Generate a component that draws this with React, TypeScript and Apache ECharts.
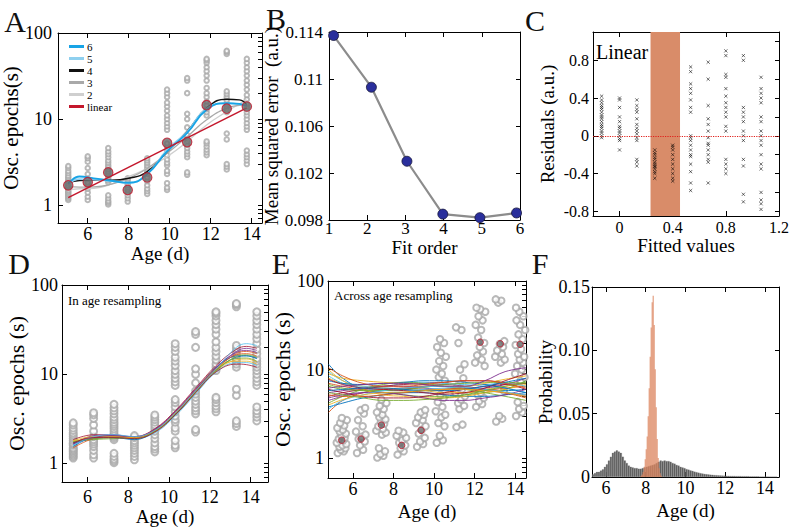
import React, { useEffect, useRef } from 'react';
import * as echarts from 'echarts';

const FONT = 'Liberation Serif';

// ---------- shared raw data (Osc. epochs per age group) ----------
const OSC_G1 = [1.15, 1.2, 1.25, 1.3, 1.35, 1.4, 1.45, 1.5, 1.6, 1.65, 1.7, 1.8, 1.9, 2.0, 2.1, 2.2, 2.35, 2.5, 2.7, 2.85];
const OSC_G2 = [1.15, 1.25, 1.4, 1.55, 1.65, 1.75, 1.85, 2.0, 2.3, 2.7, 3.2, 3.5, 3.7];
const OSC_G3 = [1.02, 1.07, 1.12, 1.2, 1.3, 1.85, 1.95, 2.05, 2.15, 2.3, 2.45, 2.6, 2.75, 2.9, 3.1, 3.3, 3.6, 3.9, 4.2, 4.6];
const OSC_G4 = [1.1, 1.2, 1.3, 1.4, 1.5, 1.6, 1.7, 1.8, 1.95, 2.05];
const OSC_G5 = [1.35, 1.45, 1.55, 1.7, 1.9, 2.1, 2.3, 2.5, 2.7, 2.9, 3.1, 3.3, 3.5];
const OSC_G6 = [1.5, 1.6, 1.8, 2.3, 2.5, 2.9, 3.1, 3.4, 3.8, 4.3, 4.8, 5.2, 7.5, 8.2, 9.0, 10, 11, 12.5, 14, 15.5, 18, 20, 22];
const OSC_G7 = [2.25, 2.4, 3.6, 3.9, 4.2, 4.6, 5.0, 5.5, 6.0, 6.5, 8.0, 10, 11.5, 20, 28, 30];
const OSC_G8 = [3.8, 4.1, 4.4, 4.8, 5.2, 5.5, 11, 12, 13, 14.5, 16, 18, 20, 23, 28, 32, 36, 40, 45, 48, 50];
const OSC_G9 = [2.6, 2.8, 3.0, 5.8, 6.8, 12, 13, 14, 15, 16.5, 18, 19.5, 21, 57, 60, 62];
const OSC_G10 = [3.0, 3.3, 3.6, 3.9, 4.3, 7.5, 8.2, 9, 10, 11, 12, 13, 14, 15, 17, 19, 22, 25, 28, 32, 36, 40, 45, 50];
const OSC_GROUPS = [OSC_G1, OSC_G2, OSC_G3, OSC_G4, OSC_G5, OSC_G6, OSC_G7, OSC_G8, OSC_G9, OSC_G10];

// ---------- Panel A ----------
const AGES_A = [5.05, 6.0, 7.0, 7.95, 8.9, 9.87, 10.85, 11.8, 12.78, 13.76];
const MEANS_A = [1.7, 1.85, 2.4, 1.5, 2.1, 5.3, 5.4, 14.5, 13.2, 14];
const FIT_AGES_A = [5.05, 5.6, 6.3, 7.15, 8.0, 8.9, 9.87, 10.85, 11.8, 12.78, 13.4, 13.76];
const FIT6 = [1.75, 2.15, 2.05, 1.92, 1.82, 2.3, 4.2, 6.9, 12.8, 15.3, 15.0, 14.2];
const FIT5 = [1.75, 2.0, 1.98, 1.9, 1.82, 2.3, 4.4, 7.1, 13.2, 15.2, 14.8, 14.4];
const FIT4 = [1.8, 1.93, 1.95, 1.95, 2.05, 2.45, 4.2, 7.2, 13.4, 17.0, 16.7, 14.6];
const FIT3 = [1.64, 1.62, 1.63, 1.75, 2.05, 2.67, 4.0, 6.25, 9.8, 13.4, 14.4, 14.6];
const FIT2 = [1.5, 1.55, 1.57, 1.75, 2.14, 2.67, 3.66, 5.47, 8.55, 12.2, 15.0, 16.7];
const LINEAR_AGES = [5.05, 13.76];
const LINEAR_FIT = [1.22, 13.5];

// ---------- Panel B ----------
const FIT_ORDER = [1.12, 2.11, 3.04, 3.98, 4.95, 5.91];
const MSE = [0.1137, 0.1093, 0.103, 0.0985, 0.0982, 0.0986];

// ---------- Panel C ----------
const FITTED = [-0.135, 0.0, 0.13, 0.265, 0.4, 0.535, 0.667, 0.8, 0.932, 1.065];
const RES_1 = [0.42, 0.38, 0.35, 0.32, 0.3, 0.28, 0.25, 0.22, 0.2, 0.18, 0.15, 0.12, 0.1, 0.08, 0.05, 0.03, 0.0, -0.02];
const RES_2 = [0.4, 0.38, 0.3, 0.2, 0.15, 0.1, 0.08, 0.05, 0.03, 0.0, -0.03, -0.05, -0.15];
const RES_3 = [0.38, 0.32, 0.28, 0.25, 0.18, 0.12, 0.08, 0.05, 0.02, -0.02, -0.05, -0.25, -0.28, -0.32];
const RES_4 = [-0.15, -0.18, -0.2, -0.23, -0.25, -0.28, -0.3, -0.32, -0.33, -0.35, -0.38, -0.4, -0.45];
const RES_5 = [-0.1, -0.12, -0.15, -0.2, -0.25, -0.3, -0.35, -0.4, -0.45, -0.48];
const RES_6 = [0.73, 0.68, 0.55, 0.5, 0.45, 0.38, 0.3, 0.25, 0.0, -0.02, -0.05, -0.1, -0.15, -0.2, -0.22, -0.3, -0.38, -0.5, -0.58];
const RES_7 = [0.78, 0.6, 0.32, 0.18, 0.12, 0.05, -0.02, -0.08, -0.1, -0.15, -0.2, -0.25, -0.28, -0.5];
const RES_8 = [0.9, 0.85, 0.65, 0.62, 0.5, 0.42, 0.35, 0.3, 0.25, 0.2, 0.1, 0.05, -0.25, -0.3, -0.35, -0.4];
const RES_9 = [0.85, 0.8, 0.3, 0.25, 0.2, 0.15, 0.05, 0.0, -0.05, -0.25, -0.32, -0.62, -0.7];
const RES_10 = [0.62, 0.5, 0.45, 0.4, 0.35, 0.2, 0.15, 0.05, 0.0, -0.05, -0.1, -0.2, -0.3, -0.35, -0.6, -0.68, -0.72, -0.78];
const RESIDUALS = [RES_1, RES_2, RES_3, RES_4, RES_5, RES_6, RES_7, RES_8, RES_9, RES_10];
const BAND = [0.233, 0.455];

// ---------- Panel D ----------
const AGES_D = [5.3, 6.3, 7.3, 8.3, 9.3, 10.3, 11.3, 12.3, 13.3, 14.3];
const FIT_AGES_D = [5.3, 6.3, 7.3, 8.3, 9.3, 10.3, 11.3, 12.3, 13.3, 13.8, 14.3];
const D_CURVES = [
  [1.55, 1.95, 2.0, 1.9, 2.3, 3.6, 6.4, 11.0, 15.5, 16.0, 15.0],
  [1.7, 2.0, 2.05, 1.95, 2.35, 3.7, 6.6, 11.5, 16.5, 17.0, 16.0],
  [1.8, 1.9, 1.95, 1.9, 2.25, 3.5, 6.2, 10.8, 14.5, 14.8, 13.8],
  [1.65, 2.05, 2.1, 1.95, 2.4, 3.8, 6.8, 12.0, 17.5, 18.5, 17.5],
  [1.75, 1.85, 1.9, 1.95, 2.3, 3.5, 6.3, 11.2, 15.0, 15.2, 14.0],
  [1.6, 1.95, 2.0, 1.9, 2.2, 3.4, 6.0, 10.5, 13.5, 13.5, 12.5],
  [1.85, 2.1, 2.05, 2.0, 2.45, 3.9, 7.0, 12.5, 19.0, 20.5, 19.5],
  [1.7, 1.9, 1.95, 1.85, 2.3, 3.6, 6.5, 11.8, 16.0, 16.2, 15.0],
  [1.5, 1.9, 2.0, 1.95, 2.35, 3.6, 6.5, 11.3, 17.0, 18.0, 17.0],
  [1.8, 2.0, 2.0, 1.95, 2.3, 3.7, 6.6, 11.6, 14.0, 14.0, 13.0],
  [1.65, 1.95, 2.05, 2.0, 2.4, 3.8, 6.7, 11.8, 18.0, 19.5, 18.5],
  [1.75, 1.9, 1.95, 1.9, 2.3, 3.55, 6.3, 10.9, 15.8, 16.5, 15.5],
  [1.6, 2.0, 2.1, 2.0, 2.35, 3.65, 6.5, 11.4, 20.0, 22.0, 21.0],
  [1.7, 1.95, 1.95, 1.9, 2.25, 3.5, 6.2, 10.6, 13.0, 12.8, 12.0],
];

// ---------- Panel E ----------
const AGES_E = [5.45, 6.4, 7.4, 8.4, 9.36, 10.33, 11.3, 12.27, 13.26, 14.24];
const JITTER_E = [-0.2, 0.1, -0.05, 0.18, -0.12, 0.03, 0.22, -0.25, 0.08, -0.15, 0.14, -0.02, 0.2, -0.1, 0.05, -0.22, 0.12, -0.08, 0.25, 0.0, -0.18, 0.16, -0.04];
const MEAN_AGES_E = [5.45, 6.4, 7.4, 8.4, 9.36, 12.27, 13.26, 14.24];
const MEANS_E = [1.6, 1.65, 2.37, 1.4, 2.07, 20.4, 19.6, 19.3];
const FIT_AGES_E = [4.8, 5.5, 6.5, 7.5, 8.5, 9.5, 10.5, 11.5, 12.5, 13.5, 14.53];
const E_CURVES = [
  [11.5, 8.0, 6.0, 5.5, 5.5, 5.8, 6.0, 6.2, 6.0, 5.8, 6.0],
  [3.3, 4.5, 5.5, 6.0, 6.2, 6.0, 5.8, 5.5, 5.8, 6.2, 6.5],
  [8.0, 7.0, 6.5, 6.2, 6.0, 5.8, 5.5, 5.5, 6.0, 6.5, 7.0],
  [4.5, 5.0, 5.5, 5.8, 6.0, 6.5, 6.8, 6.5, 6.0, 5.5, 5.0],
  [6.5, 6.0, 5.8, 5.5, 5.2, 5.0, 5.0, 5.2, 5.5, 6.0, 7.5],
  [9.5, 7.5, 6.5, 6.5, 7.0, 7.2, 7.0, 6.8, 6.5, 6.2, 5.5],
  [5.0, 5.5, 6.0, 6.5, 6.8, 7.0, 7.2, 7.5, 7.5, 7.0, 6.0],
  [3.8, 4.2, 4.8, 5.2, 5.5, 5.5, 5.2, 5.0, 5.0, 5.2, 5.5],
  [7.0, 6.5, 6.0, 6.0, 6.2, 6.5, 6.5, 6.2, 5.8, 5.5, 5.2],
  [10.0, 7.5, 6.0, 5.2, 5.0, 4.8, 4.8, 5.0, 5.5, 6.0, 6.8],
  [5.5, 5.8, 6.2, 6.5, 6.5, 6.2, 6.0, 6.0, 6.2, 6.8, 8.0],
  [4.2, 5.0, 6.0, 6.8, 7.2, 7.0, 6.5, 6.0, 5.5, 5.0, 4.5],
  [8.5, 7.0, 6.2, 5.8, 5.8, 6.0, 6.2, 6.5, 6.8, 7.0, 6.5],
  [6.0, 5.5, 5.0, 4.8, 4.8, 5.0, 5.5, 6.0, 6.5, 6.8, 7.0],
  [7.5, 7.0, 6.8, 7.0, 7.2, 7.5, 7.5, 7.2, 6.8, 6.2, 5.5],
  [5.2, 5.0, 5.0, 5.2, 5.5, 5.8, 6.0, 6.2, 6.0, 5.5, 4.8],
  [9.0, 8.0, 7.5, 7.2, 7.0, 6.8, 6.5, 6.5, 7.0, 7.8, 8.5],
  [4.8, 5.2, 5.5, 5.5, 5.2, 4.8, 4.5, 4.5, 4.8, 5.2, 6.0],
  [6.8, 6.2, 5.8, 5.8, 6.0, 6.3, 6.8, 7.0, 7.2, 7.2, 7.0],
  [3.6, 4.5, 5.2, 5.8, 6.2, 6.4, 6.5, 6.3, 6.0, 5.6, 5.2],
  [7.8, 6.8, 6.2, 6.0, 5.8, 5.5, 5.3, 5.5, 6.2, 7.5, 9.0],
  [5.8, 6.0, 6.2, 6.2, 6.0, 5.8, 5.8, 6.0, 6.5, 7.2, 8.0],
  [10.5, 8.5, 7.0, 6.5, 6.5, 6.8, 7.2, 7.5, 7.5, 7.0, 6.2],
  [4.0, 4.6, 5.2, 5.5, 5.6, 5.8, 6.0, 6.0, 5.8, 5.5, 5.0],
  [6.2, 6.5, 6.8, 7.0, 7.0, 6.8, 6.5, 6.5, 7.5, 9.5, 10.5],
  [5.5, 5.2, 4.8, 4.5, 4.5, 4.6, 4.8, 5.2, 5.8, 6.5, 7.2],
];

// ---------- Panel F ----------
const HIST_START = 5.3;
const HIST_STEP = 0.1;
const HIST_ALL = [
  0.002, 0.003, 0.004, 0.004, 0.005, 0.006, 0.008, 0.010, 0.013, 0.016,
  0.019, 0.020, 0.021, 0.020, 0.019, 0.016, 0.013, 0.011, 0.009, 0.008,
  0.0075, 0.007, 0.007, 0.0065, 0.0065, 0.007, 0.0075, 0.008, 0.0085, 0.009,
  0.0095, 0.010, 0.011, 0.012, 0.013, 0.0125, 0.013, 0.0125, 0.0125, 0.012,
  0.011, 0.0105, 0.0095, 0.009, 0.008, 0.0075, 0.007, 0.0062, 0.0058, 0.0052,
  0.0048, 0.0042, 0.0038, 0.0034, 0.003, 0.0027, 0.0024, 0.0022, 0.002, 0.0018,
  0.0017, 0.0015, 0.0014, 0.0013, 0.0012, 0.0011, 0.001, 0.0009, 0.0009, 0.0008,
  0.0008, 0.0008, 0.0007, 0.0007, 0.0007, 0.0006, 0.0006, 0.0006, 0.0006, 0.0005,
  0.0005, 0.0005, 0.0005, 0.0005, 0.0004, 0.0004, 0.0004, 0.0004, 0.0004, 0.0003,
  0.0003, 0.0003, 0.0003,
];
const HIST_BEST_X = [7.775, 7.825, 7.875, 7.925, 7.975, 8.025, 8.075, 8.125, 8.175, 8.225, 8.275, 8.325, 8.375, 8.425, 8.475, 8.525, 8.575, 8.625, 8.675, 8.725, 8.775];
const HIST_BEST = [0.001, 0.002, 0.004, 0.008, 0.014, 0.022, 0.032, 0.048, 0.07, 0.095, 0.118, 0.138, 0.143, 0.12, 0.085, 0.055, 0.03, 0.015, 0.007, 0.003, 0.001];

// ---------- tick labels ----------
const AGE_TICKS = [6, 8, 10, 12, 14];
const LOG_TICKS = [1, 10, 100];
const LOG_MINOR = [0.7, 0.8, 0.9, 1, 2, 3, 4, 5, 6, 7, 8, 9, 10, 20, 30, 40, 50, 60, 70, 80, 90, 100];
const ORDER_TICKS = [1, 2, 3, 4, 5, 6];
const MSE_TICKS = [0.098, 0.102, 0.106, 0.11, 0.114];
const FITTED_TICKS = [0, 0.4, 0.8, 1.2];
const RES_TICKS = [-0.8, -0.4, 0, 0.4, 0.8];
const RES_MINOR = [-0.8, -0.6, -0.4, -0.2, 0, 0.2, 0.4, 0.6, 0.8, 1.0];
const PROB_TICKS = [0, 0.05, 0.1, 0.15];

const LINE_COLORS = ['#0072BD', '#D95319', '#EDB120', '#7E2F8E', '#77AC30', '#4DBEEE', '#A2142F'];

const black = { color: '#000', width: 1 };

function xPair(grid: number, min: number, max: number, ticks: number[], fmt: (v: number) => string,
  size: number, margin: number, name: string, nameGap: number) {
  const base: any = {
    type: 'value', gridIndex: grid, min, max, splitLine: { show: false },
    axisLine: { show: true, onZero: false, lineStyle: black },
    axisTick: { show: true, inside: true, length: 5, customValues: ticks, lineStyle: black },
  };
  return [
    {
      ...base, position: 'bottom',
      axisLabel: { show: true, customValues: ticks, formatter: fmt, margin, fontSize: size, fontFamily: FONT, color: '#000' },
      name, nameLocation: 'middle', nameGap,
      nameTextStyle: { fontFamily: FONT, fontSize: 19, color: '#000' },
    },
    { ...base, position: 'top', axisLabel: { show: false } },
  ];
}

function yPair(grid: number, type: string, min: number, max: number, ticks: number[], minor: number[],
  fmt: (v: number) => string, size: number, margin: number, name: string, nameGap: number, nameSize: number) {
  const base: any = {
    type, gridIndex: grid, min, max, splitLine: { show: false },
    axisLine: { show: true, onZero: false, lineStyle: black },
  };
  return [
    {
      ...base, position: 'left',
      axisTick: { show: true, inside: true, length: 5, customValues: ticks, lineStyle: black },
      axisLabel: { show: true, customValues: ticks, formatter: fmt, margin, fontSize: size, fontFamily: FONT, color: '#000' },
      name, nameLocation: 'middle', nameGap, nameRotate: 90,
      nameTextStyle: { fontFamily: FONT, fontSize: nameSize, color: '#000' },
    },
    {
      ...base, position: 'right',
      axisTick: { show: true, inside: true, length: 4, customValues: minor, lineStyle: black },
      axisLabel: { show: false },
    },
  ];
}

const ageFmt = (v: number) => String(Math.round(v));
const logFmt = (v: number) => String(Math.round(v));

function buildOption() {
  const grids = [
    { left: 58, top: 33, width: 204, height: 190 },
    { left: 329, top: 32, width: 191, height: 188 },
    { left: 593, top: 32, width: 186, height: 184 },
    { left: 62, top: 285, width: 206, height: 197 },
    { left: 328, top: 281, width: 198, height: 197 },
    { left: 592, top: 287, width: 187, height: 190 },
  ].map((g) => ({ ...g, containLabel: false, outerBoundsMode: 'none', show: false }));

  const xAxis = [
    ...xPair(0, 4.55, 14.5, AGE_TICKS, ageFmt, 18, 2, 'Age (d)', 14),
    ...xPair(1, 1, 6, ORDER_TICKS, ageFmt, 17, 0, 'Fit order', 13),
    ...xPair(2, -0.2, 1.2, FITTED_TICKS, (v) => String(v), 16, 3, 'Fitted values', 17),
    ...xPair(3, 4.75, 14.85, AGE_TICKS, ageFmt, 18, 6, 'Age (d)', 23),
    ...xPair(4, 4.77, 14.53, AGE_TICKS, ageFmt, 18, 2, 'Age (d)', 24),
    ...xPair(5, 5.3, 14.7, AGE_TICKS, ageFmt, 18, 2, 'Age (d)', 24),
  ];
  const yAxis = [
    ...yPair(0, 'log', 0.62, 100, LOG_TICKS, LOG_MINOR, logFmt, 18, 6, 'Osc. epochs(s)', 22, 21),
    ...yPair(1, 'value', 0.098, 0.114, MSE_TICKS, MSE_TICKS, (v) => String(parseFloat(v.toFixed(3))), 17, 6, 'Mean squared error  (a.u.)', 36, 19),
    ...yPair(2, 'value', -0.85, 1.1, RES_TICKS, RES_MINOR, (v) => String(parseFloat(v.toFixed(1))), 16, 4, 'Residuals (a.u.)', 36, 19),
    ...yPair(3, 'log', 0.62, 100, LOG_TICKS, LOG_MINOR, logFmt, 18, 4, 'Osc. epochs (s)', 23, 22),
    ...yPair(4, 'log', 0.6, 100, LOG_TICKS, LOG_MINOR, logFmt, 18, 4, 'Osc. epochs (s)', 23, 22),
    ...yPair(5, 'value', 0, 0.15, PROB_TICKS, PROB_TICKS, (v) => (v === 0 ? '0' : v.toFixed(2)), 18, 2, 'Probability', 33, 19),
  ];

  const series: any[] = [];

  // ---- A ----
  const scatterA: number[][] = [];
  OSC_GROUPS.forEach((vals, i) => vals.forEach((v) => scatterA.push([AGES_A[i], v])));
  series.push({
    type: 'scatter', xAxisIndex: 0, yAxisIndex: 0, data: scatterA, symbol: 'emptyCircle', symbolSize: 4.5,
    itemStyle: { color: '#a8a8a8', borderColor: '#a8a8a8', borderWidth: 0.9 }, silent: true, z: 2,
  });
  const fits: [string, number[], string, number][] = [
    ['2', FIT2, '#cfcfcf', 1.3],
    ['3', FIT3, '#a9a9a9', 1.3],
    ['4', FIT4, '#111111', 1.4],
    ['5', FIT5, '#8fd0ef', 1.8],
    ['6', FIT6, '#18a4e6', 1.8],
  ];
  fits.forEach(([name, vals, color, w]) => {
    series.push({
      type: 'line', name, xAxisIndex: 0, yAxisIndex: 0, color,
      data: vals.map((v, i) => [FIT_AGES_A[i], v]), smooth: 0.5, showSymbol: false, symbol: 'none',
      lineStyle: { color, width: w }, z: 3,
    });
  });
  series.push({
    type: 'line', name: 'linear', xAxisIndex: 0, yAxisIndex: 0, color: '#c4172c',
    data: LINEAR_FIT.map((v, i) => [LINEAR_AGES[i], v]), showSymbol: false, symbol: 'none',
    lineStyle: { color: '#c4172c', width: 1.5 }, z: 4,
  });
  series.push({
    type: 'scatter', xAxisIndex: 0, yAxisIndex: 0, data: MEANS_A.map((v, i) => [AGES_A[i], v]),
    symbol: 'circle', symbolSize: 9.5, itemStyle: { color: '#6a6a6a', borderColor: '#c4172c', borderWidth: 1.1 }, z: 5,
  });

  // ---- B ----
  series.push({
    type: 'line', xAxisIndex: 2, yAxisIndex: 2, data: MSE.map((v, i) => [FIT_ORDER[i], v]),
    symbol: 'circle', symbolSize: 10, clip: false,
    lineStyle: { color: '#8c8c8c', width: 2.2 },
    itemStyle: { color: '#2a2f9c', borderColor: '#15153a', borderWidth: 0.8 },
  });

  // ---- C ----
  const scatterC: number[][] = [];
  RESIDUALS.forEach((vals, i) => vals.forEach((v) => scatterC.push([FITTED[i], v])));
  series.push({
    type: 'scatter', xAxisIndex: 4, yAxisIndex: 4, data: scatterC,
    symbol: 'path://M0,0L10,10M10,0L0,10', symbolSize: 3.2,
    itemStyle: { color: '#000', borderColor: '#000', borderWidth: 0.7 }, z: 4,
    markArea: {
      silent: true, itemStyle: { color: '#d98c69', opacity: 1 },
      data: [[{ xAxis: BAND[0] }, { xAxis: BAND[1] }]],
    },
    markLine: {
      silent: true, symbol: 'none', label: { show: false },
      lineStyle: { color: '#e0201b', type: 'dotted', width: 1.2 },
      data: [{ yAxis: 0 }],
    },
  });

  // ---- D ----
  const scatterD: number[][] = [];
  OSC_GROUPS.forEach((vals, i) => vals.forEach((v) => scatterD.push([AGES_D[i], v])));
  series.push({
    type: 'scatter', xAxisIndex: 6, yAxisIndex: 6, data: scatterD, symbol: 'emptyCircle', symbolSize: 7,
    itemStyle: { color: '#a8a8a8', borderColor: '#a8a8a8', borderWidth: 1.1 }, z: 2,
  });
  D_CURVES.forEach((vals, k) => {
    const c = LINE_COLORS[k % LINE_COLORS.length];
    series.push({
      type: 'line', name: 'd' + k, xAxisIndex: 6, yAxisIndex: 6, color: c,
      data: vals.map((v, i) => [FIT_AGES_D[i], v]), smooth: 0.4, showSymbol: false, symbol: 'none',
      lineStyle: { color: c, width: 0.8 }, z: 3,
    });
  });

  // ---- E ----
  const scatterE: number[][] = [];
  OSC_GROUPS.forEach((vals, i) => vals.forEach((v, j) => scatterE.push([AGES_E[i] + JITTER_E[j % JITTER_E.length], v])));
  series.push({
    type: 'scatter', xAxisIndex: 8, yAxisIndex: 8, data: scatterE, symbol: 'emptyCircle', symbolSize: 6.5,
    itemStyle: { color: '#a8a8a8', borderColor: '#a8a8a8', borderWidth: 1.1 }, z: 2,
  });
  E_CURVES.forEach((vals, k) => {
    const c = LINE_COLORS[k % LINE_COLORS.length];
    series.push({
      type: 'line', name: 'e' + k, xAxisIndex: 8, yAxisIndex: 8, color: c,
      data: vals.map((v, i) => [FIT_AGES_E[i], v]), smooth: 0.4, showSymbol: false, symbol: 'none',
      lineStyle: { color: c, width: 0.9 }, z: 3,
    });
  });
  series.push({
    type: 'scatter', xAxisIndex: 8, yAxisIndex: 8, data: MEANS_E.map((v, i) => [MEAN_AGES_E[i], v]),
    symbol: 'circle', symbolSize: 6.5, itemStyle: { color: '#6a6a6a', borderColor: '#c4172c', borderWidth: 1 }, z: 5,
  });

  // ---- F ----
  series.push({
    type: 'bar', xAxisIndex: 10, yAxisIndex: 10, barWidth: '100%',
    data: HIST_ALL.map((v, i) => [HIST_START + HIST_STEP * (i + 0.5), v]),
    itemStyle: { color: '#5e5e5e', borderColor: '#7a7a7a', borderWidth: 0.3 }, z: 2,
  });
  series.push({
    type: 'bar', xAxisIndex: 11, yAxisIndex: 10, barWidth: '100%',
    data: HIST_BEST.map((v, i) => [HIST_BEST_X[i], v]),
    itemStyle: { color: '#dc8660', opacity: 0.95 }, z: 3,
  });

  const letter = (t: string, x: number, y: number) => ({
    type: 'text', x, y, silent: true,
    style: { text: t, fontFamily: FONT, fontSize: 30, fill: '#111', align: 'center', verticalAlign: 'middle' },
  });
  const note = (t: string, x: number, y: number, size: number) => ({
    type: 'text', x, y, silent: true, z: 10,
    style: { text: t, fontFamily: FONT, fontSize: size, fill: '#000', align: 'left', verticalAlign: 'middle' },
  });

  return {
    animation: false,
    backgroundColor: '#fff',
    grid: grids,
    xAxis,
    yAxis,
    legend: {
      data: ['6', '5', '4', '3', '2', 'linear'],
      orient: 'vertical', left: 64, top: 36, itemWidth: 15, itemHeight: 3, itemGap: 1,
      icon: 'rect', selectedMode: false,
      textStyle: { fontFamily: FONT, fontSize: 11, lineHeight: 10.5, color: '#000', padding: [0, 0, 0, -2] },
    },
    series,
    graphic: [
      letter('A', 15, 21),
      letter('B', 276, 18),
      letter('C', 535, 20),
      letter('D', 19, 263),
      letter('E', 281, 263),
      letter('F', 540, 263),
      note('Linear', 596, 52, 20),
      note('In age resampling', 68, 300, 13),
      note('Across age resampling', 334, 295, 13),
    ],
  };
}

export default function App() {
  const ref = useRef<HTMLDivElement>(null);
  useEffect(() => {
    if (!ref.current) return;
    const chart = echarts.init(ref.current, undefined, { renderer: 'svg' });
    chart.setOption(buildOption() as any);
    return () => chart.dispose();
  }, []);
  return (
    <div
      ref={ref}
      style={{ position: 'fixed', left: 0, top: 0, width: 792, height: 530, background: '#fff' }}
    />
  );
}
